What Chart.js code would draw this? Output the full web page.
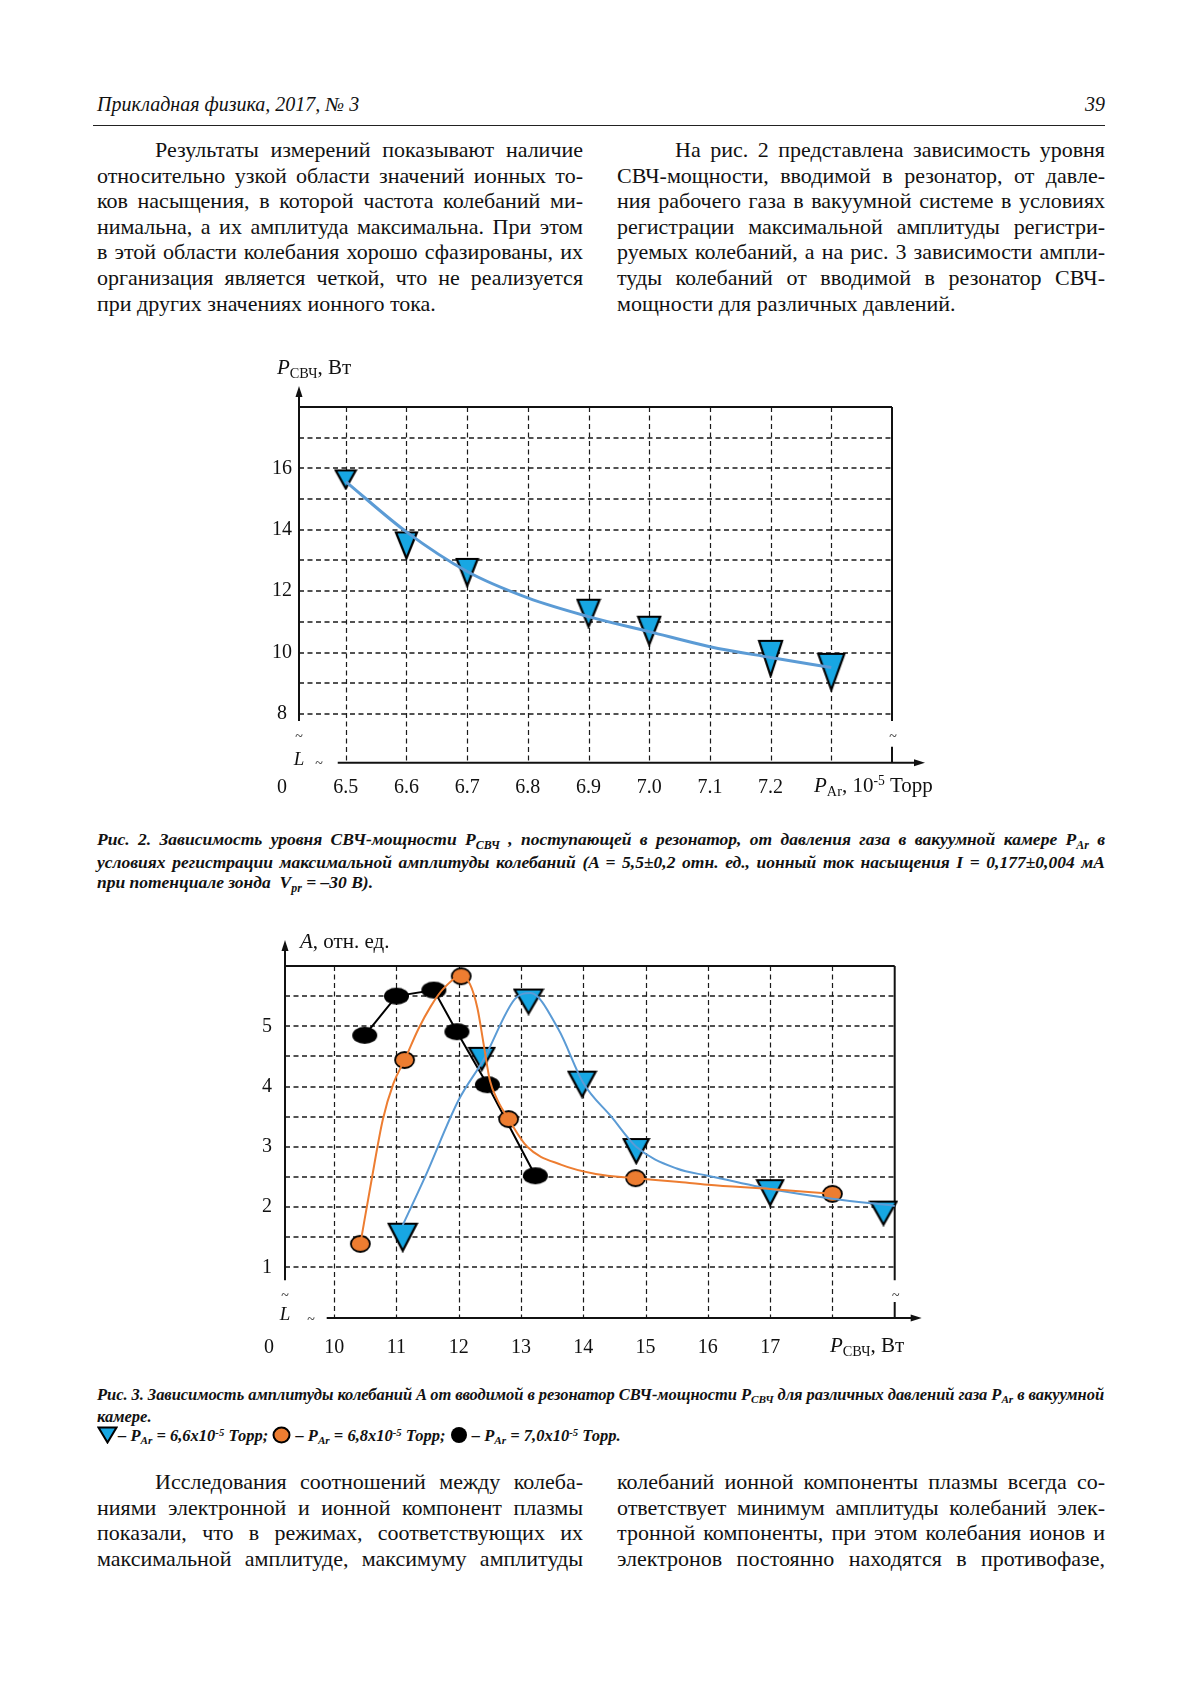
<!DOCTYPE html>
<html lang="ru">
<head>
<meta charset="UTF-8" />
<title>Прикладная физика, 2017, № 3 — с. 39</title>
<script src="https://cdn.jsdelivr.net/npm/chart.js"></script>
<style>
  html, body { margin: 0; padding: 0; background: #fff; }
  body { width: 1200px; height: 1698px; position: relative; overflow: hidden;
         font-family: "Liberation Serif", "Times New Roman", serif; color: #111; }
  .abs { position: absolute; }
  .head { font-style: italic; font-size: 20px; line-height: 24px; }
  .rule { left: 93px; width: 1012px; top: 125px; height: 0; border-top: 1.5px solid #222; }
  .col { font-size: 22px; line-height: 25.6px; }
  .col div, .cap div { white-space: nowrap; }
  .ind { padding-left: 58px; }
  .cap { left: 97px; width: 1008px; font-weight: bold; font-style: italic; }
  .sb { font-size: 0.68em; position: relative; top: 0.3em; }
  .sp { font-size: 0.65em; position: relative; top: -0.5em; }
  .ttl { font-size: 21px; line-height: 24px; white-space: nowrap; z-index: 2; }
  canvas { position: absolute; }
</style>
</head>
<body>

<div class="abs head" style="left:97px; top:92px">Прикладная физика, 2017, № 3</div>
<div class="abs head" style="left:1005px; top:92px; width:100px; text-align:right">39</div>
<div class="abs rule"></div>

<!-- верхний текст -->
<div class="abs col" style="left:97px; top:137px; width:486px">
  <div class="j ind"><span>Результаты измерений показывают наличие</span></div>
  <div class="j"><span>относительно узкой области значений ионных то-</span></div>
  <div class="j"><span>ков насыщения, в которой частота колебаний ми-</span></div>
  <div class="j"><span>нимальна, а их амплитуда максимальна. При этом</span></div>
  <div class="j"><span>в этой области колебания хорошо сфазированы, их</span></div>
  <div class="j"><span>организация является четкой, что не реализуется</span></div>
  <div><span>при других значениях ионного тока.</span></div>
</div>
<div class="abs col" style="left:617px; top:137px; width:488px">
  <div class="j ind"><span>На рис. 2 представлена зависимость уровня</span></div>
  <div class="j"><span>СВЧ-мощности, вводимой в резонатор, от давле-</span></div>
  <div class="j"><span>ния рабочего газа в вакуумной системе в условиях</span></div>
  <div class="j"><span>регистрации максимальной амплитуды регистри-</span></div>
  <div class="j"><span>руемых колебаний, а на рис. 3 зависимости ампли-</span></div>
  <div class="j"><span>туды колебаний от вводимой в резонатор СВЧ-</span></div>
  <div><span>мощности для различных давлений.</span></div>
</div>

<!-- Рис. 2 -->
<canvas id="fig2" width="730" height="475" style="left:230px; top:340px"></canvas>
<div class="abs ttl" style="left:277px; top:355px"><i>P</i><span class="sb">СВЧ</span>, Вт</div>
<div class="abs ttl" style="left:814px; top:773px"><i>P</i><span class="sb">Ar</span>, 10<span class="sp">-5</span> Торр</div>

<div class="abs cap" style="top:829px; font-size:17.5px; line-height:20.5px">
  <div class="j"><span>Рис. 2. Зависимость уровня СВЧ-мощности P<span class="sb">СВЧ</span> , поступающей в резонатор, от давления газа в вакуумной камере P<span class="sb">Ar</span> в</span></div>
  <div class="j"><span>условиях регистрации максимальной амплитуды колебаний (A = 5,5±0,2 отн. ед., ионный ток насыщения I = 0,177±0,004 мА</span></div>
  <div><span>при потенциале зонда &nbsp;V<span class="sb">pr</span> = –30 В).</span></div>
</div>

<!-- Рис. 3 -->
<canvas id="fig3" width="720" height="455" style="left:220px; top:915px"></canvas>
<div class="abs ttl" style="left:300px; top:929px"><i>A</i>, отн. ед.</div>
<div class="abs ttl" style="left:830px; top:1333px"><i>P</i><span class="sb">СВЧ</span>, Вт</div>

<div class="abs cap" style="top:1385px; font-size:16.5px; line-height:19.5px">
  <div class="j"><span>Рис. 3. Зависимость амплитуды колебаний A от вводимой в резонатор СВЧ-мощности P<span class="sb">СВЧ</span> для различных давлений газа P<span class="sb">Ar</span> в вакуумной</span></div>
  <div><span>камере.</span></div>
  <div><span><svg width="21" height="18" style="vertical-align:-3px"><polygon points="1.5,1.5 19.5,1.5 10.5,16.5" fill="#17a7e3" stroke="#000" stroke-width="2"/></svg>– P<span class="sb">Ar</span> = 6,6x10<span class="sp">-5</span> Торр; <svg width="19" height="18" style="vertical-align:-3px"><ellipse cx="9.5" cy="9" rx="8" ry="7.5" fill="#ed7d31" stroke="#000" stroke-width="2"/></svg> – P<span class="sb">Ar</span> = 6,8x10<span class="sp">-5</span> Торр; <svg width="18" height="18" style="vertical-align:-3px"><ellipse cx="9" cy="9" rx="8" ry="8" fill="#000"/></svg> – P<span class="sb">Ar</span> = 7,0x10<span class="sp">-5</span> Торр.</span></div>
</div>

<!-- нижний текст -->
<div class="abs col" style="left:97px; top:1469px; width:486px">
  <div class="j ind"><span>Исследования соотношений между колеба-</span></div>
  <div class="j"><span>ниями электронной и ионной компонент плазмы</span></div>
  <div class="j"><span>показали, что в режимах, соответствующих их</span></div>
  <div class="j"><span>максимальной амплитуде, максимуму амплитуды</span></div>
</div>
<div class="abs col" style="left:617px; top:1469px; width:488px">
  <div class="j"><span>колебаний ионной компоненты плазмы всегда со-</span></div>
  <div class="j"><span>ответствует минимум амплитуды колебаний элек-</span></div>
  <div class="j"><span>тронной компоненты, при этом колебания ионов и</span></div>
  <div class="j"><span>электронов постоянно находятся в противофазе,</span></div>
</div>

<script>
  // ---- Рис. 2: P_СВЧ (Вт) от P_Ar (10^-5 Торр) ----
  const pressureAr = [6.5, 6.6, 6.7, 6.9, 7.0, 7.2, 7.3];
  const powerSvch  = [15.64, 13.49, 12.61, 11.28, 10.71, 9.81, 9.37];
  // сглаживающая кривая
  const fitPressure = [6.5, 6.6, 6.7, 6.8, 6.9, 7.0, 7.1, 7.2, 7.3];
  const fitPower    = [15.57, 13.93, 12.64, 11.78, 11.17, 10.68, 10.19, 9.84, 9.51];

  const xTicks2 = [6.5, 6.6, 6.7, 6.8, 6.9, 7.0, 7.1, 7.2];
  const yTicks2 = [8, 10, 12, 14, 16];
  const xGrid2  = [6.5, 6.6, 6.7, 6.8, 6.9, 7.0, 7.1, 7.2, 7.3];
  const yGrid2  = [8, 9, 10, 11, 12, 13, 14, 15, 16, 17];

  // ---- Рис. 3: A (отн. ед.) от P_СВЧ (Вт) ----
  const pow66 = [11.1, 12.37, 13.12, 13.98, 14.85, 17.0, 18.82];
  const amp66 = [1.50, 4.46, 5.41, 4.04, 2.93, 2.24, 1.90];
  const pow68 = [10.42, 11.13, 12.04, 12.8, 14.84, 18.0];
  const amp68 = [1.39, 4.44, 5.83, 3.46, 2.48, 2.22];
  const pow70 = [10.49, 11.0, 11.6, 11.97, 12.46, 13.23];
  const amp70 = [4.85, 5.50, 5.60, 4.91, 4.03, 2.52];

  const fit66P = [11.1, 11.45, 12.0, 12.4, 12.9, 13.15, 13.6, 14.0, 14.45, 14.85, 15.5, 16, 17, 18, 19];
  const fit66A = [1.7, 2.48, 3.78, 4.45, 5.45, 5.55, 4.95, 4.06, 3.5, 3.0, 2.64, 2.52, 2.3, 2.14, 2.02];
  const fit68P = [10.42, 10.6, 10.78, 10.95, 11.13, 11.35, 11.55, 11.75, 12.04, 12.18, 12.3, 12.4, 12.5, 12.62, 12.8, 13.1, 13.65, 14.2, 14.84, 15.5, 16, 17, 18];
  const fit68A = [1.39, 2.45, 3.45, 4.05, 4.44, 4.95, 5.33, 5.62, 5.83, 5.7, 5.3, 4.7, 4.1, 3.78, 3.46, 3.0, 2.7, 2.55, 2.48, 2.42, 2.37, 2.3, 2.22];

  const xTicks3 = [10, 11, 12, 13, 14, 15, 16, 17];
  const yTicks3 = [1, 2, 3, 4, 5];
  const xGrid3  = [10, 11, 12, 13, 14, 15, 16, 17, 18];
  const yGrid3  = [1, 1.5, 2, 2.5, 3, 3.5, 4, 4.5, 5, 5.5];

  // размеры маркеров (ширина x высота), как на рисунке
  const triSize2 = [[20, 18], [21, 26], [21, 27], [22, 27], [22, 28], [23, 35], [26, 36]];
  const triSize3 = [[28, 27], [25, 22], [28, 24], [27, 25], [25, 24], [26, 25], [26, 23]];

  const BLUE_FILL = '#17a7e3';
  const BLUE_LINE = '#5b9bd5';
  const ORANGE = '#ed7d31';

  const xy = (xs, ys) => xs.map((v, i) => ({ x: v, y: ys[i] }));

  function triMarker(w, h) {
    const c = document.createElement('canvas');
    c.width = w + 4; c.height = h + 4;
    const g = c.getContext('2d');
    g.beginPath();
    g.moveTo(2, 2); g.lineTo(w + 2, 2); g.lineTo(w / 2 + 2, h + 2); g.closePath();
    g.fillStyle = BLUE_FILL; g.fill();
    g.lineWidth = 2.2; g.strokeStyle = '#000'; g.stroke();
    return c;
  }

  function dotMarker(w, h, fill, stroke) {
    const c = document.createElement('canvas');
    c.width = w + 4; c.height = h + 4;
    const g = c.getContext('2d');
    g.beginPath();
    g.ellipse(w / 2 + 2, h / 2 + 2, w / 2, h / 2, 0, 0, Math.PI * 2);
    g.fillStyle = fill; g.fill();
    if (stroke) { g.lineWidth = 1.8; g.strokeStyle = stroke; g.stroke(); }
    return c;
  }

  function line(ctx, x1, y1, x2, y2) {
    ctx.beginPath(); ctx.moveTo(x1, y1); ctx.lineTo(x2, y2); ctx.stroke();
  }

  // сетка, рамка с разрывом оси, стрелки и подписи делений
  function framePlugin(o) {
    return {
      id: 'frame',
      beforeDatasetsDraw(chart) {
        const { ctx, chartArea: a } = chart;
        const x = chart.scales.x, y = chart.scales.y;
        ctx.save();
        ctx.strokeStyle = '#1a1a1a';
        ctx.setLineDash([5, 3.5]);
        ctx.lineWidth = 1.2;
        o.xGrid.forEach(v => { const px = Math.round(x.getPixelForValue(v)) + 0.5; line(ctx, px, a.top, px, a.bottom); });
        ctx.lineWidth = 1.6;
        o.yGrid.forEach(v => { const py = Math.round(y.getPixelForValue(v)); line(ctx, a.left, py, a.right, py); });
        ctx.setLineDash([]);

        ctx.strokeStyle = '#111'; ctx.fillStyle = '#111'; ctx.lineWidth = 2;
        const yCut = y.getPixelForValue(o.yGrid[0]) + o.cut;
        line(ctx, a.left, a.top, a.right, a.top);
        line(ctx, a.left, a.top - o.arrowUp + 8, a.left, yCut);
        line(ctx, a.right, a.top, a.right, yCut);
        line(ctx, a.right, a.bottom - 16, a.right, a.bottom);
        const x0 = x.getPixelForValue(o.xGrid[0]) - o.lead;
        line(ctx, x0, a.bottom, a.right + o.arrowRight - 8, a.bottom);
        // стрелки
        ctx.beginPath();
        ctx.moveTo(a.left, a.top - o.arrowUp);
        ctx.lineTo(a.left - 3.5, a.top - o.arrowUp + 11);
        ctx.lineTo(a.left + 3.5, a.top - o.arrowUp + 11);
        ctx.closePath(); ctx.fill();
        ctx.beginPath();
        ctx.moveTo(a.right + o.arrowRight, a.bottom);
        ctx.lineTo(a.right + o.arrowRight - 11, a.bottom - 3.5);
        ctx.lineTo(a.right + o.arrowRight - 11, a.bottom + 3.5);
        ctx.closePath(); ctx.fill();

        // знаки разрыва
        ctx.textAlign = 'center'; ctx.textBaseline = 'middle';
        ctx.font = '14px "Liberation Serif"';
        ctx.fillText('~', a.left, yCut + 16);
        ctx.fillText('~', a.right + 1, yCut + 16);
        ctx.fillText('~', a.left + o.tildeDx, a.bottom + 2);
        ctx.font = 'italic 19px "Liberation Serif"';
        ctx.fillText('L', a.left, a.bottom - 3);

        // подписи делений
        ctx.font = '20px "Liberation Serif"';
        o.yTicks.forEach(v => ctx.fillText(String(v), a.left - o.yLabDx, y.getPixelForValue(v)));
        o.xTicks.forEach(v => ctx.fillText(o.fmt(v), x.getPixelForValue(v), a.bottom + o.xLabDy));
        ctx.fillText('0', a.left - o.zeroDx, a.bottom + o.xLabDy);
        ctx.restore();
      }
    };
  }

  function baseOptions(pad, xMin, xMax, yMin, yMax) {
    return {
      responsive: false,
      animation: false,
      events: [],
      layout: { padding: pad, autoPadding: false },
      plugins: { legend: { display: false }, tooltip: { enabled: false } },
      scales: {
        x: { type: 'linear', display: false, min: xMin, max: xMax },
        y: { type: 'linear', display: false, min: yMin, max: yMax }
      }
    };
  }

  const tri2 = triSize2.map(s => triMarker(s[0], s[1]));
  const tri3 = triSize3.map(s => triMarker(s[0], s[1]));
  const orangeDot = dotMarker(19, 16, ORANGE, '#000');
  const blackDot = dotMarker(25, 17, '#000', null);

  new Chart(document.getElementById('fig2'), {
    type: 'scatter',
    data: {
      datasets: [
        { data: xy(fitPressure, fitPower), showLine: true, borderColor: BLUE_LINE, borderWidth: 3,
          pointRadius: 0, cubicInterpolationMode: 'monotone', clip: false, order: 0 },
        { data: xy(pressureAr, powerSvch), showLine: false, pointRadius: 10,
          pointStyle: c => tri2[c.dataIndex], clip: false, order: 1 }
      ]
    },
    options: baseOptions({ left: 69, right: 68, top: 67, bottom: 52.3 }, 6.423, 7.4, 6.41, 18),
    plugins: [framePlugin({
      xGrid: xGrid2, yGrid: yGrid2, xTicks: xTicks2, yTicks: yTicks2,
      fmt: v => v.toFixed(1), cut: 7, arrowUp: 21, lead: 8, arrowRight: 33,
      tildeDx: 20, yLabDx: 17, xLabDy: 25, zeroDx: 17
    })]
  });

  new Chart(document.getElementById('fig3'), {
    type: 'scatter',
    data: {
      datasets: [
        { data: xy(fit68P, fit68A), showLine: true, borderColor: ORANGE, borderWidth: 2,
          pointRadius: 0, cubicInterpolationMode: 'monotone', clip: false, order: 0 },
        { data: xy(fit66P, fit66A), showLine: true, borderColor: BLUE_LINE, borderWidth: 2,
          pointRadius: 0, cubicInterpolationMode: 'monotone', clip: false, order: 1 },
        { data: xy(pow68, amp68), showLine: false, pointRadius: 9,
          pointStyle: orangeDot, clip: false, order: 2 },
        { data: xy(pow66, amp66), showLine: false, pointRadius: 10,
          pointStyle: c => tri3[c.dataIndex], clip: false, order: 3 },
        { data: xy(pow70, amp70), showLine: true, borderColor: '#000', borderWidth: 2,
          tension: 0, pointRadius: 10, pointStyle: blackDot, clip: false, order: 4 }
      ]
    },
    options: baseOptions({ left: 65, right: 45.3, top: 51, bottom: 52 }, 9.21, 19, 0.16, 6),
    plugins: [framePlugin({
      xGrid: xGrid3, yGrid: yGrid3, xTicks: xTicks3, yTicks: yTicks3,
      fmt: v => String(v), cut: 13, arrowUp: 26, lead: 7.5, arrowRight: 27,
      tildeDx: 26, yLabDx: 18, xLabDy: 30, zeroDx: 16
    })]
  });

  // выравнивание строк по ширине колонки
  function justifyLines() {
    document.querySelectorAll('.j').forEach(el => {
      const span = el.firstElementChild;
      const avail = el.clientWidth - parseFloat(getComputedStyle(el).paddingLeft);
      const w = span.getBoundingClientRect().width;
      const text = span.textContent;
      const n = (text.match(/ /g) || []).length;
      if (!n) return;
      const extra = (avail - w) / n;
      if (extra >= 0) {
        span.style.wordSpacing = extra + 'px';
      } else {
        // строка шире колонки: слегка сжимаем межбуквенные интервалы
        span.style.letterSpacing = ((avail - w - 1) / text.length) + 'px';
      }
    });
  }
  document.fonts.ready.then(justifyLines);
</script>
</body>
</html>
